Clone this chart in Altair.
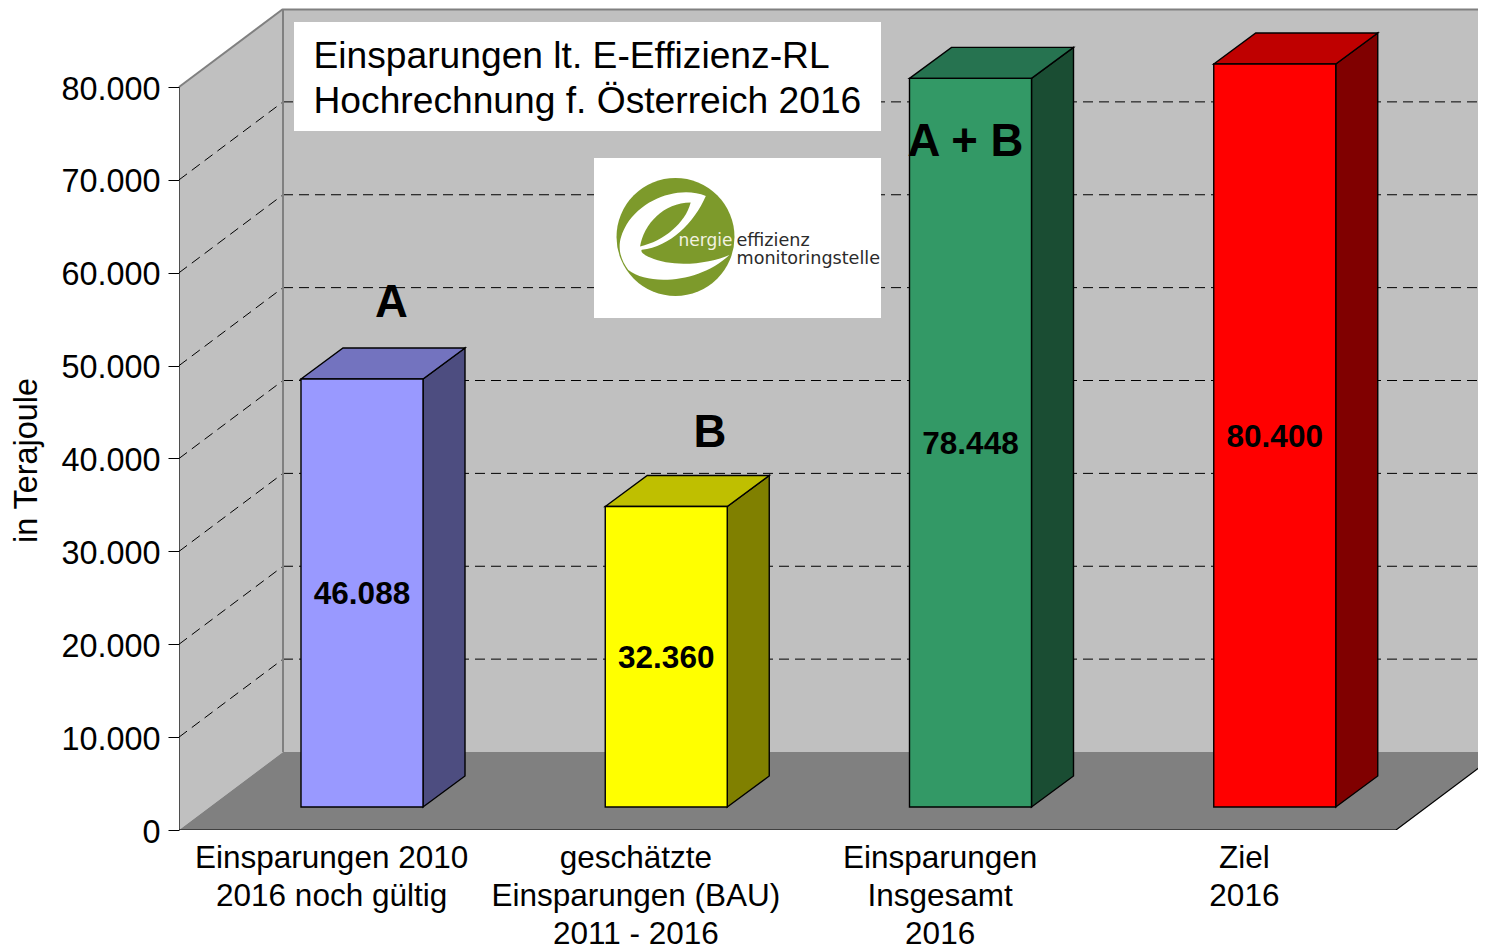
import altair as alt
import pandas as pd

# ---- chart values
categories = ["Einsparungen 2010|2016 noch gültig", "geschätzte|Einsparungen (BAU)|2011 - 2016",
              "Einsparungen|Insgesamt|2016", "Ziel|2016"]
values = [46088, 32360, 78448, 80000]   # heights as drawn in the picture (the red bar stops at 80.000)
value_labels = ["46.088", "32.360", "78.448", "80.400"]
front_colors = ["#9999FF", "#FFFF00", "#339966", "#FF0000"]
side_colors = ["#4D4D80", "#808000", "#1A4D33", "#800000"]
top_colors = ["#7373BF", "#BFBF00", "#267350", "#BF0000"]
y_ticks = [0, 10000, 20000, 30000, 40000, 50000, 60000, 70000, 80000]

# ---- geometry of the pseudo-3D box, in data units
PX_X, PX_Y = 304.25, 9.2875          # pixels per category / per 1000 TJ
W, H = 1299, 821                     # svg may be at most 1470 wide on this page
XMAX, YMAX = W / PX_X, H / PX_Y * 1000
DX, DY = 104 / PX_X, 78 / PX_Y * 1000  # wall depth
BX, BY = 42 / PX_X, 31 / PX_Y * 1000   # bar depth
BASE = 23 / PX_Y * 1000                # bar base above the front edge
BOFF, BW = 122 / PX_X, 122 / PX_X

def fx(px):
    return (px - 179) / PX_X

def fy(py):
    return (830 - py) / PX_Y * 1000

xs = alt.Scale(domain=[0, XMAX], nice=False, zero=False)
ys = alt.Scale(domain=[0, YMAX], nice=False, zero=False)
x_axis = alt.Axis(
    values=[0.5, 1.5, 2.5, 3.5], domain=False, ticks=False, grid=False, title=None,
    labelExpr="split(" + str(categories) + "[floor(datum.value)], '|')",
    labelFont="Liberation Sans", labelFontSize=31.5, labelColor="black", labelLimit=600,
    labelLineHeight=38, labelPadding=12, labelOverlap=False, labelBound=False,
    labelFlush=False, labelAngle=0, labelAlign="center", labelBaseline="top")
y_axis = alt.Axis(
    values=y_ticks, domain=False, grid=False, tickColor="black", tickSize=11, tickWidth=1,
    title="in Terajoule",
    labelExpr="replace(format(datum.value, ','), ',', '.')",
    labelFont="Liberation Sans", labelFontSize=32.4, labelColor="black", labelPadding=8, labelOffset=2,
    labelOverlap=False, labelBound=False, labelFlush=False,
    titleFont="Liberation Sans", titleFontSize=32.4, titleFontWeight="normal", titleColor="black",
    titleAngle=270, titleX=-153, titleY=451, titleAlign="center", titleBaseline="middle")
X = alt.X("x:Q", scale=xs, axis=x_axis)
Y = alt.Y("y:Q", scale=ys, axis=y_axis)
X2 = alt.X2("x2:Q")
Y2 = alt.Y2("y2:Q")
FILL = alt.Color("f:N", scale=None, legend=None)

# walls and floor
ymaxv = 80000
back = alt.Chart(pd.DataFrame({"x": [DX], "x2": [XMAX], "y": [DY], "y2": [YMAX]})).mark_rect(
    color="#C0C0C0").encode(x=X, x2=X2, y=Y, y2=Y2)
left = alt.Chart(pd.DataFrame({"x": [0, DX], "y": [0, DY], "y2": [ymaxv, ymaxv + DY]})).mark_area(
    color="#C0C0C0").encode(x=X, y=Y, y2=Y2)
floor = alt.Chart(pd.DataFrame({"x": [0, DX, 4, 4 + DX], "y": [0, DY, DY, DY], "y2": [0, 0, 0, DY]})).mark_area(
    color="#808080", clip=True).encode(x=X, y=Y, y2=Y2)

# wall outlines
def segments(rows):
    out = []
    for i, (x0, y0, x1, y1) in enumerate(rows):
        out += [{"x": x0, "y": y0, "g": i, "o": 0}, {"x": x1, "y": y1, "g": i, "o": 1}]
    return pd.DataFrame(out)

grey_lines = alt.Chart(segments([
    (0, ymaxv, DX, YMAX - 0.1), (DX, DY, DX, YMAX), (DX, YMAX - 60, XMAX, YMAX - 60),
])).mark_line(color="#808080", strokeWidth=2).encode(x=X, y=Y, detail="g:N", order="o:Q")

black_lines = alt.Chart(segments([
    (0, 0, 0, ymaxv), (0, 0, 4, 0), (4, 0, 4 + DX, DY),
])).mark_line(color="black", strokeWidth=1.2, clip=True).encode(x=X, y=Y, detail="g:N", order="o:Q")

# dashed grid
grid_rows = []
for v in y_ticks[1:-1]:
    grid_rows += [(0, v, DX, v + DY), (DX, v + DY, XMAX, v + DY)]
grid = alt.Chart(segments(grid_rows)).mark_line(
    color="black", strokeWidth=1, strokeDash=[10, 6]).encode(x=X, y=Y, detail="g:N", order="o:Q")

# bars
fronts, sides, tops, labels = [], [], [], []
for i, v in enumerate(values):
    x0 = i + BOFF
    x1 = x0 + BW
    b, t = BASE, BASE + v
    fronts.append({"x": x0, "x2": x1, "y": b, "y2": t, "f": front_colors[i]})
    sides += [{"x": x1, "y": b, "y2": t, "f": side_colors[i]},
              {"x": x1 + BX, "y": b + BY, "y2": t + BY, "f": side_colors[i]}]
    tops += [{"x": x0, "y": t, "y2": t, "f": top_colors[i]},
             {"x": x0 + BX, "y": t + BY, "y2": t, "f": top_colors[i]},
             {"x": x1, "y": t + BY, "y2": t, "f": top_colors[i]},
             {"x": x1 + BX, "y": t + BY, "y2": t + BY, "f": top_colors[i]}]
    labels.append({"x": (x0 + x1) / 2, "y": BASE + v / 2, "t": value_labels[i]})

EDGE = dict(stroke="black", strokeWidth=1.4)
side_m = alt.Chart(pd.DataFrame(sides)).mark_area(**EDGE).encode(x=X, y=Y, y2=Y2, color=FILL)
top_m = alt.Chart(pd.DataFrame(tops)).mark_area(**EDGE).encode(x=X, y=Y, y2=Y2, color=FILL)
front_m = alt.Chart(pd.DataFrame(fronts)).mark_rect(**EDGE).encode(x=X, x2=X2, y=Y, y2=Y2, color=FILL)
value_text = alt.Chart(pd.DataFrame(labels)).mark_text(
    font="Liberation Sans", fontSize=31.5, fontWeight="bold", color="black", baseline="middle", dy=2
).encode(x=X, y=Y, text="t:N")

# annotations
boxes = alt.Chart(pd.DataFrame({
    "x": [fx(294), fx(594)], "x2": [fx(881), fx(881)], "y": [fy(22), fy(158)], "y2": [fy(131), fy(318)],
})).mark_rect(color="white").encode(x=X, x2=X2, y=Y, y2=Y2)

title_text = alt.Chart(pd.DataFrame({
    "x": [fx(313.5), fx(313.5)], "y": [fy(68), fy(113)],
    "t": ["Einsparungen lt. E-Effizienz-RL", "Hochrechnung f. Österreich 2016"],
})).mark_text(font="Liberation Sans", fontSize=37.2, color="black", align="left", baseline="alphabetic").encode(
    x=X, y=Y, text="t:N")

letters = alt.Chart(pd.DataFrame({
    "x": [fx(391.5), fx(710), fx(965.5)], "y": [fy(317), fy(447), fy(156)], "t": ["A", "B", "A + B"],
})).mark_text(font="Liberation Sans", fontSize=45.5, fontWeight="bold", color="black",
              align="center", baseline="alphabetic").encode(x=X, y=Y, text="t:N")

# logo
def n(x, y):
    return f"{(x - 245) / 175:.3f} {(y - 237) / 175:.3f}"

e_path = ("M" + n(335, 115) + "C" + n(260, 85) + " " + n(150, 120) + " " + n(100, 200)
          + "C" + n(65, 260) + " " + n(80, 300) + " " + n(105, 335)
          + "C" + n(170, 385) + " " + n(320, 370) + " " + n(405, 290)
          + "C" + n(350, 315) + " " + n(240, 330) + " " + n(170, 298)
          + "C" + n(150, 290) + " " + n(140, 280) + " " + n(145, 275)
          + "C" + n(230, 265) + " " + n(300, 195) + " " + n(335, 115) + "Z")
eye_path = ("M" + n(140, 265) + "C" + n(150, 200) + " " + n(210, 135) + " " + n(290, 135)
            + "C" + n(275, 195) + " " + n(210, 250) + " " + n(140, 265) + "Z")
GREEN = "#7D9A2B"
logo_pos = pd.DataFrame({"x": [fx(675.5)], "y": [fy(237)]})
R = 59
S = (2 * R) ** 2
disc = alt.Chart(logo_pos).mark_point(shape="circle", filled=True, size=S, color=GREEN, opacity=1).encode(x=X, y=Y)
e_white = alt.Chart(logo_pos).mark_point(shape=e_path, filled=True, size=S, color="white", opacity=1).encode(x=X, y=Y)
eye = alt.Chart(logo_pos).mark_point(shape=eye_path, filled=True, size=S, color=GREEN, opacity=1).encode(x=X, y=Y)

logo_white = alt.Chart(pd.DataFrame({"x": [fx(678.5)], "y": [fy(246)], "t": ["nergie"]})).mark_text(
    font="DejaVu Sans", fontSize=17, color="#F2F2E0", align="left", baseline="alphabetic"
).encode(x=X, y=Y, text="t:N")
logo_dark = alt.Chart(pd.DataFrame({
    "x": [fx(736.5), fx(736.5)], "y": [fy(246), fy(264)], "t": ["effizienz", "monitoringstelle"]
})).mark_text(font="DejaVu Sans", fontSize=17.6, color="#2B2B2B", align="left", baseline="alphabetic"
).encode(x=X, y=Y, text="t:N")

chart = alt.layer(
    back, left, floor, grid, grey_lines, black_lines,
    side_m, top_m, front_m, value_text, boxes, title_text, letters,
    disc, e_white, eye, logo_white, logo_dark,
).properties(
    width=W, height=H,
    padding={"left": 171, "top": 1, "right": 0, "bottom": 118},
    autosize=alt.AutoSizeParams(type="none", contains="content"),
    background="white",
).configure_view(stroke=None)

chart.save("out.html", embed_options={"renderer": "svg", "actions": False})
